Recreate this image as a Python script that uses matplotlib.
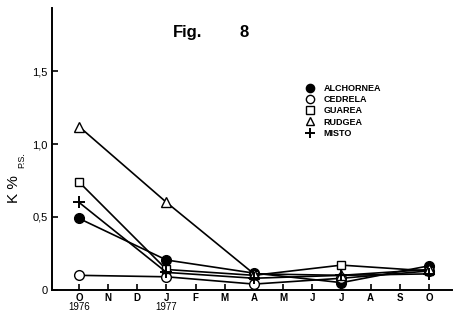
import matplotlib.pyplot as plt
from matplotlib.lines import Line2D
import numpy as np

# months from Oct 1976 to Oct 1977
month_labels = ['O', 'N', 'D', 'J', 'F', 'M', 'A', 'M', 'J', 'J', 'A', 'S', 'O']
sample_months = [0, 3, 6, 9, 12]

# K % dry weight per species
alchornea = [0.49, 0.205, 0.115, 0.05, 0.165]
cedrela = [0.10, 0.09, 0.04, 0.08, 0.13]
guarea = [0.74, 0.14, 0.10, 0.17, 0.13]
rudgea = [1.12, 0.60, 0.11, 0.10, 0.14]
misto = [0.60, 0.12, 0.08, 0.10, 0.11]

series = [
    ('ALCHORNEA', alchornea, dict(marker='o', markerfacecolor='black', markersize=7)),
    ('CEDRELA', cedrela, dict(marker='o', markerfacecolor='white', markersize=7)),
    ('GUAREA', guarea, dict(marker='s', markerfacecolor='white', markersize=6)),
    ('RUDGEA', rudgea, dict(marker='^', markerfacecolor='white', markersize=7.5)),
    ('MISTO', misto, dict(marker='+', markersize=8, markeredgewidth=1.4)),
]

plt.rcParams['font.family'] = ['Liberation Sans', 'DejaVu Sans']

fig = plt.figure(figsize=(4.55, 3.2), dpi=100)
ax = fig.add_axes([0.114, 0.094, 0.88, 0.88])

handles = []
for name, vals, style in series:
    ax.plot(sample_months, vals, color='black', linewidth=1.2,
            markeredgecolor='black', **style)
    leg_style = dict(style)
    leg_style['markersize'] = style['markersize'] * 0.85
    handles.append(Line2D([], [], linestyle='none', color='black',
                          markeredgecolor='black', label=name, **leg_style))

ax.set_xlim(-0.93, 12.8)
ax.set_ylim(0, 1.93)
ax.set_xticks(np.arange(len(month_labels)))
ax.set_xticklabels(month_labels, fontsize=7, fontweight='bold')
ax.set_yticks([0, 0.5, 1.0, 1.5])
ax.set_yticklabels(['0', '0,5', '1,0', '1,5'], fontsize=8)
ax.tick_params(direction='in', length=4, width=1.2)
ax.tick_params(axis='x', pad=2)
ax.tick_params(axis='y', pad=3)

for s in ['top', 'right']:
    ax.spines[s].set_visible(False)
for s in ['left', 'bottom']:
    ax.spines[s].set_linewidth(1.4)

# year labels under October 1976 and January 1977
ax.text(0, -0.085, '1976', ha='center', va='top', fontsize=7, clip_on=False)
ax.text(3, -0.085, '1977', ha='center', va='top', fontsize=7, clip_on=False)

fig.text(0.031, 0.41, 'K %', rotation=90, fontsize=11, ha='center', va='center')
fig.text(0.047, 0.5, 'P.S.', rotation=90, fontsize=6.5, ha='center', va='center')

fig.text(0.38, 0.884, 'Fig.', fontsize=12, fontweight='bold', ha='left', va='baseline')
fig.text(0.527, 0.884, '8', fontsize=12, fontweight='bold', ha='left', va='baseline')

ax.legend(handles=handles, loc='upper left', bbox_to_anchor=(0.625, 0.745),
          frameon=False, handlelength=1.0, handletextpad=1.0,
          labelspacing=0.25, borderaxespad=0,
          prop={'weight': 'bold', 'size': 6.5})

fig.savefig('out.png', dpi=100)
